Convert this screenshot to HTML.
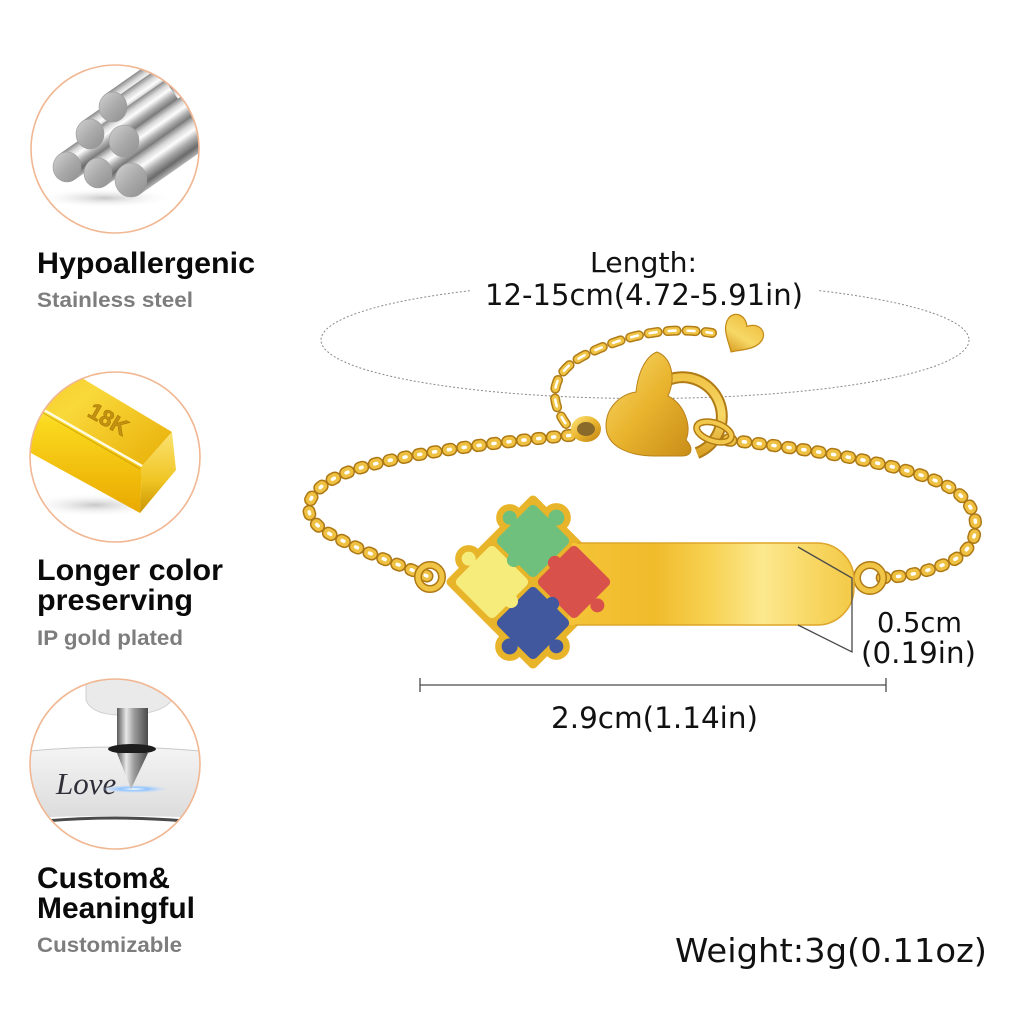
<!DOCTYPE html>
<html><head><meta charset="utf-8"><style>
html,body{margin:0;padding:0;background:#fff}
svg{display:block}
.t{font-family:"Liberation Sans",Arial,sans-serif;font-weight:bold;fill:#0a0a0a;font-size:30px}
.s{font-family:"Liberation Sans",Arial,sans-serif;font-weight:bold;fill:#7d7d7d;font-size:21.5px}
.d{font-family:"DejaVu Sans","Liberation Sans",sans-serif;fill:#111}
</style></head><body>
<svg width="1024" height="1024" viewBox="0 0 1024 1024" xmlns="http://www.w3.org/2000/svg">
<defs>
  <clipPath id="c1"><circle cx="115" cy="149" r="84"/></clipPath>
  <clipPath id="c2"><circle cx="115" cy="457" r="85"/></clipPath>
  <clipPath id="c3"><circle cx="115" cy="764" r="85"/></clipPath>
  <linearGradient id="rod" x1="0" y1="0" x2="0" y2="1">
    <stop offset="0" stop-color="#8a8a8a"/><stop offset=".18" stop-color="#d8d8d8"/>
    <stop offset=".35" stop-color="#fdfdfd"/><stop offset=".55" stop-color="#b0b0b0"/>
    <stop offset=".8" stop-color="#6a6a6a"/><stop offset="1" stop-color="#b5b5b5"/>
  </linearGradient>
  <linearGradient id="rodEnd" x1="0" y1="0" x2="1" y2="1">
    <stop offset="0" stop-color="#d2d2d2"/><stop offset=".5" stop-color="#ababab"/><stop offset="1" stop-color="#8e8e8e"/>
  </linearGradient>
  <radialGradient id="shadow" cx=".5" cy=".5" r=".5">
    <stop offset="0" stop-color="#999" stop-opacity=".55"/><stop offset="1" stop-color="#fff" stop-opacity="0"/>
  </radialGradient>
  <linearGradient id="gTop" x1="0" y1="0" x2="1" y2="1">
    <stop offset="0" stop-color="#f2c412"/><stop offset=".5" stop-color="#f9d83a"/><stop offset="1" stop-color="#e8ae06"/>
  </linearGradient>
  <linearGradient id="gFront" x1="0" y1="0" x2="0" y2="1">
    <stop offset="0" stop-color="#fff27a"/><stop offset=".3" stop-color="#fad81e"/><stop offset="1" stop-color="#eaa900"/>
  </linearGradient>
  <linearGradient id="gSide" x1="0" y1="0" x2="0" y2="1">
    <stop offset="0" stop-color="#fbe371"/><stop offset=".6" stop-color="#f0c524"/><stop offset="1" stop-color="#c99400"/>
  </linearGradient>
  <linearGradient id="metal" x1="0" y1="0" x2="1" y2="0">
    <stop offset="0" stop-color="#5a5a5a"/><stop offset=".3" stop-color="#e8e8e8"/>
    <stop offset=".55" stop-color="#9c9c9c"/><stop offset="1" stop-color="#4a4a4a"/>
  </linearGradient>
  <linearGradient id="plate" x1="0" y1="0" x2="0" y2="1">
    <stop offset="0" stop-color="#f4f4f4"/><stop offset="1" stop-color="#dcdcdc"/>
  </linearGradient>
  <radialGradient id="laser" cx=".5" cy=".5" r=".5">
    <stop offset="0" stop-color="#fff"/><stop offset=".4" stop-color="#8fc4ff"/><stop offset="1" stop-color="#bcd8ff" stop-opacity="0"/>
  </radialGradient>
  <linearGradient id="bar" x1="0" y1="0" x2="1" y2="0">
    <stop offset="0" stop-color="#f4c437"/><stop offset=".3" stop-color="#f1bb2c"/>
    <stop offset=".5" stop-color="#f7d253"/><stop offset=".68" stop-color="#fce88f"/>
    <stop offset=".85" stop-color="#f8d865"/><stop offset="1" stop-color="#f3c946"/>
  </linearGradient>
  <linearGradient id="gold" x1="0" y1="0" x2="1" y2="1">
    <stop offset="0" stop-color="#f9dc6e"/><stop offset=".5" stop-color="#e9b42e"/><stop offset="1" stop-color="#c98d18"/>
  </linearGradient>
  <linearGradient id="gold2" x1="0" y1="0" x2="0" y2="1">
    <stop offset="0" stop-color="#f0c447"/><stop offset=".5" stop-color="#f7d867"/><stop offset="1" stop-color="#d9a126"/>
  </linearGradient>
</defs>

<rect width="1024" height="1024" fill="#fff"/>

<!-- ===== Icon 1: steel rods ===== -->
<g clip-path="url(#c1)">
  <ellipse cx="105" cy="198" rx="70" ry="10" fill="url(#shadow)"/>
  <g transform="translate(113,107) rotate(-35)"><rect x="0" y="-15" width="130" height="30" fill="url(#rod)"/></g>
  <g transform="translate(90,134) rotate(-35)"><rect x="0" y="-15" width="130" height="30" fill="url(#rod)"/></g>
  <g transform="translate(124,141) rotate(-35)"><rect x="0" y="-16" width="130" height="32" fill="url(#rod)"/></g>
  <g transform="translate(67,167) rotate(-35)"><rect x="0" y="-15" width="130" height="30" fill="url(#rod)"/></g>
  <g transform="translate(98,173) rotate(-35)"><rect x="0" y="-15" width="130" height="30" fill="url(#rod)"/></g>
  <g transform="translate(131,180) rotate(-35)"><rect x="0" y="-17" width="130" height="34" fill="url(#rod)"/></g>
  <g fill="url(#rodEnd)" stroke="#9a9a9a" stroke-width=".6">
    <ellipse cx="113" cy="107" rx="14" ry="15"/>
    <ellipse cx="90" cy="134" rx="14" ry="15"/>
    <ellipse cx="124" cy="141" rx="15" ry="16"/>
    <ellipse cx="67" cy="167" rx="14" ry="15"/>
    <ellipse cx="98" cy="173" rx="14" ry="15"/>
    <ellipse cx="131" cy="180" rx="16" ry="17"/>
  </g>
</g>
<circle cx="115" cy="149" r="84" fill="none" stroke="#f1b793" stroke-width="1.6"/>

<!-- ===== Icon 2: gold bar ===== -->
<g clip-path="url(#c2)">
  <ellipse cx="95" cy="505" rx="70" ry="12" fill="url(#shadow)"/>
  <polygon points="0,385 142,466 140,513 0,436" fill="url(#gFront)"/>
  <polygon points="0,329 172,432 142,466 0,385" fill="url(#gTop)"/>
  <polygon points="172,432 176,470 140,513 142,466" fill="url(#gSide)"/>
  <line x1="0" y1="385" x2="142" y2="466" stroke="#fffbe0" stroke-width="2.5"/>
  <line x1="0" y1="388" x2="140" y2="469" stroke="#b88a00" stroke-width="1" opacity=".6"/>
  <text x="108" y="427" transform="rotate(30 108 420)" text-anchor="middle" font-family="Liberation Sans, sans-serif" font-weight="bold" font-size="23" fill="#c39212" stroke="#a87a05" stroke-width=".6">18K</text>
</g>
<circle cx="115" cy="457" r="85" fill="none" stroke="#f1b793" stroke-width="1.6"/>

<!-- ===== Icon 3: engraving ===== -->
<g clip-path="url(#c3)">
  <path d="M20,752 Q115,742 210,752 L210,818 Q115,814 20,818 Z" fill="url(#plate)"/>
  <path d="M20,752 Q115,742 210,752" fill="none" stroke="#c8c8c8" stroke-width="1"/>
  <path d="M45,821 Q115,815 185,821" fill="none" stroke="#4a4a4a" stroke-width="3"/>
  <text x="56" y="794" font-family="Liberation Serif, serif" font-style="italic" font-size="31" fill="#2f2f3a">Love</text>
  <ellipse cx="134" cy="789" rx="34" ry="4" fill="url(#laser)"/>
  <path d="M86,660 L86,700 Q92,716 126,715 Q162,714 172,700 L176,660 Z" fill="#eaeaea" stroke="#cfcfcf" stroke-width="1"/>
  <rect x="117" y="708" width="31" height="41" fill="url(#metal)"/>
  <ellipse cx="132" cy="749" rx="24" ry="5" fill="#1d1d1d"/>
  <polygon points="117,753 148,753 131,789" fill="url(#metal)"/>
</g>
<circle cx="115" cy="764" r="85" fill="none" stroke="#f1b793" stroke-width="1.6"/>

<!-- ===== Left texts ===== -->
<text class="t" x="37" y="273" textLength="218" lengthAdjust="spacingAndGlyphs">Hypoallergenic</text>
<text class="s" x="37" y="307" textLength="156" lengthAdjust="spacingAndGlyphs">Stainless steel</text>
<text class="t" x="37" y="580" textLength="186" lengthAdjust="spacingAndGlyphs">Longer color</text>
<text class="t" x="37" y="610" textLength="156" lengthAdjust="spacingAndGlyphs">preserving</text>
<text class="s" x="37" y="645" textLength="146" lengthAdjust="spacingAndGlyphs">IP gold plated</text>
<text class="t" x="37" y="888" textLength="133" lengthAdjust="spacingAndGlyphs">Custom&amp;</text>
<text class="t" x="37" y="918" textLength="158" lengthAdjust="spacingAndGlyphs">Meaningful</text>
<text class="s" x="37" y="952" textLength="145" lengthAdjust="spacingAndGlyphs">Customizable</text>

<!-- ===== Dotted ellipse ===== -->
<ellipse cx="645" cy="340" rx="324" ry="58.5" fill="none" stroke="#8a8a8a" stroke-width="1" stroke-dasharray="2 2"/>
<rect x="470" y="276" width="348" height="36" fill="#fff"/>
<text class="d" x="590" y="272" font-size="28" textLength="107" lengthAdjust="spacingAndGlyphs">Length:</text>
<text class="d" x="485" y="305" font-size="29" textLength="318" lengthAdjust="spacingAndGlyphs">12-15cm(4.72-5.91in)</text>

<!-- ===== Extension chain ===== -->
<g fill="none" stroke-linecap="round">
  <path d="M566,424 C545,395 555,370 585,355 C620,338 660,325 712,333" stroke="#b07c16" stroke-width="10" stroke-dasharray="9 10"/>
  <path d="M566,424 C545,395 555,370 585,355 C620,338 660,325 712,333" stroke="#f0c445" stroke-width="7" stroke-dasharray="9 10"/>
  <path d="M566,424 C545,395 555,370 585,355 C620,338 660,325 712,333" stroke="#fff" stroke-width="2.5" stroke-dasharray="7 12" stroke-dashoffset="-1"/>
</g>
<g transform="translate(741,336) rotate(32) scale(1.25)">
  <path d="M0,15 C-6,9 -16,3 -16,-6 C-16,-14 -6,-17 0,-9 C6,-17 16,-14 16,-6 C16,3 6,9 0,15 Z" fill="url(#gold2)" stroke="#c48a18" stroke-width="1"/>
</g>

<!-- ===== Chains ===== -->
<g fill="none" stroke-linecap="round">
  <path d="M585,434 C520,440 420,450 360,468 C310,483 290,512 330,534 C362,552 400,565 427,576" stroke="#ad7814" stroke-width="13" stroke-dasharray="3 12"/>
  <path d="M585,434 C520,440 420,450 360,468 C310,483 290,512 330,534 C362,552 400,565 427,576" stroke="#efc142" stroke-width="10" stroke-dasharray="3 12"/>
  <path d="M585,434 C520,440 420,450 360,468 C310,483 290,512 330,534 C362,552 400,565 427,576" stroke="#fff" stroke-width="3.5" stroke-dasharray="2 13" stroke-dashoffset="-0.5"/>
  <path d="M728,440 C800,448 900,462 945,485 C985,505 985,545 950,562 C920,575 895,578 872,578" stroke="#ad7814" stroke-width="13" stroke-dasharray="3 12"/>
  <path d="M728,440 C800,448 900,462 945,485 C985,505 985,545 950,562 C920,575 895,578 872,578" stroke="#efc142" stroke-width="10" stroke-dasharray="3 12"/>
  <path d="M728,440 C800,448 900,462 945,485 C985,505 985,545 950,562 C920,575 895,578 872,578" stroke="#fff" stroke-width="3.5" stroke-dasharray="2 13" stroke-dashoffset="-0.5"/>
</g>

<!-- ===== Clasp ===== -->
<ellipse cx="586" cy="429" rx="12" ry="10" fill="#8a6a2a" stroke="url(#gold)" stroke-width="6"/>
<path d="M668,380 A31 31 0 1 1 697,453" fill="none" stroke="#b07a14" stroke-width="12"/>
<path d="M668,380 A31 31 0 1 1 697,453" fill="none" stroke="url(#gold2)" stroke-width="8"/>
<path d="M657,352 C672,358 676,378 668,396 C684,404 692,425 686,440 C694,448 692,456 682,456 L655,456 C628,456 606,446 606,426 C606,406 622,394 636,392 C638,372 646,356 657,352 Z" fill="url(#gold)" stroke="#b9821a" stroke-width="1"/>
<ellipse cx="714" cy="432" rx="18" ry="9" transform="rotate(18 714 432)" fill="none" stroke="#b07a14" stroke-width="7"/>
<ellipse cx="714" cy="432" rx="18" ry="9" transform="rotate(18 714 432)" fill="none" stroke="#f2c94c" stroke-width="4"/>

<!-- ===== End rings ===== -->
<circle cx="430" cy="577" r="12" fill="none" stroke="#b07a14" stroke-width="8"/>
<circle cx="430" cy="577" r="12" fill="none" stroke="#f0c445" stroke-width="5"/>
<circle cx="870" cy="578" r="13" fill="none" stroke="#b07a14" stroke-width="8"/>
<circle cx="870" cy="578" r="13" fill="none" stroke="#f0c445" stroke-width="5"/>

<!-- ===== Plate ===== -->
<g transform="translate(533,582) rotate(45)">
  <g fill="#e8b42a" stroke="#e8b42a" stroke-width="9" stroke-linejoin="round">
    <rect x="-58" y="-58" width="116" height="116"/>
    <circle cx="-29" cy="-62" r="10"/><circle cx="-62" cy="-29" r="9"/>
    <circle cx="62" cy="-29" r="9"/><circle cx="-62" cy="29" r="9"/>
    <circle cx="62" cy="29" r="9"/><circle cx="29" cy="62" r="10"/>
  </g>
</g>
<path d="M572,543 L817,543 A37 37 0 0 1 854,580 L854,588 A37 37 0 0 1 817,625 L568,625 Z" fill="url(#bar)"/>
<path d="M577,543 L817,543 A37 37 0 0 1 854,580 L854,588 A37 37 0 0 1 817,625 L575,625" fill="none" stroke="#dda52a" stroke-width="1.5"/>
<g transform="translate(533,582) rotate(45)">
  <g fill="#6fc07c"><rect x="-56" y="-56" width="54" height="54" rx="5"/><circle cx="-29" cy="-62" r="8"/><circle cx="-62" cy="-29" r="7"/></g>
  <g fill="#d8514b"><rect x="2" y="-56" width="54" height="54" rx="5"/><circle cx="62" cy="-29" r="7"/><circle cx="2" cy="-29" r="7"/></g>
  <g fill="#f6ec7c"><rect x="-56" y="2" width="54" height="54" rx="5"/><circle cx="-62" cy="29" r="7"/></g>
  <g fill="#41589f"><rect x="2" y="2" width="54" height="54" rx="5"/><circle cx="62" cy="29" r="7"/><circle cx="29" cy="62" r="8"/><circle cx="29" cy="2" r="7"/></g>
  <circle cx="-29" cy="-2" r="7" fill="#6fc07c"/>
  <circle cx="-2" cy="29" r="7" fill="#f6ec7c"/>
</g>

<!-- ===== Dimension lines ===== -->
<g stroke="#4a4a4a" stroke-width="1.3" fill="none">
  <line x1="420" y1="685" x2="886" y2="685"/>
  <line x1="420" y1="678" x2="420" y2="692"/>
  <line x1="886" y1="678" x2="886" y2="692"/>
  <polyline points="798,547 852,578 852,652 798,625"/>
</g>
<text class="d" x="877" y="632" font-size="27.5" textLength="85" lengthAdjust="spacingAndGlyphs">0.5cm</text>
<text class="d" x="861" y="663" font-size="29" textLength="115" lengthAdjust="spacingAndGlyphs">(0.19in)</text>
<text class="d" x="551" y="728" font-size="29" textLength="207" lengthAdjust="spacingAndGlyphs">2.9cm(1.14in)</text>
<text class="d" x="675" y="962" font-size="33" textLength="312" lengthAdjust="spacingAndGlyphs">Weight:3g(0.11oz)</text>
</svg>
</body></html>
